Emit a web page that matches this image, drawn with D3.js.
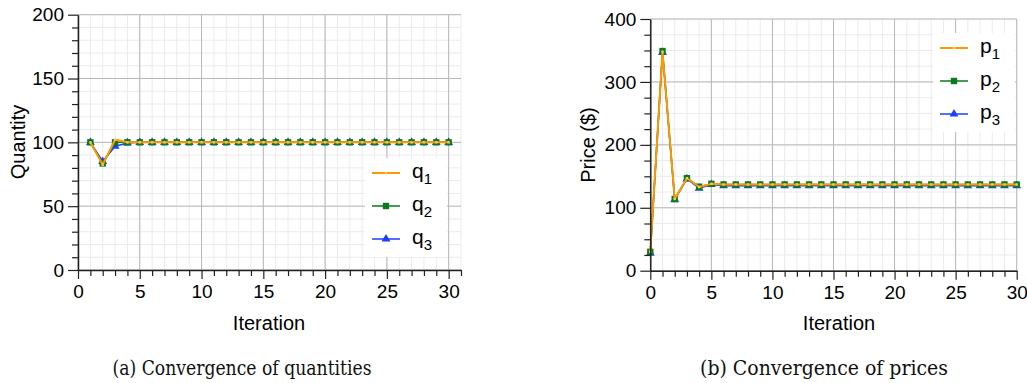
<!DOCTYPE html>
<html>
<head>
<meta charset="utf-8">
<script src="https://cdn.jsdelivr.net/npm/d3@7"></script>
<style>
  body { margin: 0; background: #fff; }
  text { font-family: "Liberation Sans", Arial, sans-serif; }
  text.caption { font-family: "DejaVu Serif Condensed", "DejaVu Serif", serif; font-stretch: condensed; }
</style>
</head>
<body>
<svg id="chart" width="1027" height="383"></svg>
<script>
// quantities, iteration 1..30
var iterQ = [1,2,3,4,5,6,7,8,9,10,11,12,13,14,15,16,17,18,19,20,21,22,23,24,25,26,27,28,29,30]
var q1 = [100,82.5,102,100,100,100,100,100,100,100,100,100,100,100,100,100,100,100,100,100,100,100,100,100,100,100,100,100,100,100]
var q2 = [100,83.5,100,100,100,100,100,100,100,100,100,100,100,100,100,100,100,100,100,100,100,100,100,100,100,100,100,100,100,100]
var q3 = [100,85,97,99.5,100,100,100,100,100,100,100,100,100,100,100,100,100,100,100,100,100,100,100,100,100,100,100,100,100,100]

// prices, iteration 0..30
var iterP = [0,1,2,3,4,5,6,7,8,9,10,11,12,13,14,15,16,17,18,19,20,21,22,23,24,25,26,27,28,29,30]
var p1 = [30,348,114,147,133,138,137,137,137,137,137,137,137,137,137,137,137,137,137,137,137,137,137,137,137,137,137,137,137,137,137]
var p2 = [30,349,114,147,133.5,138,137,137,137,137,137,137,137,137,137,137,137,137,137,137,137,137,137,137,137,137,137,137,137,137,137]
var p3 = [28,347,113,146,131,137,135,135,135,135,135,135,135,135,135,135,135,135,135,135,135,135,135,135,135,135,135,135,135,135,135]

var xTicks = [0,5,10,15,20,25,30]
var qTicks = [0,50,100,150,200]
var pTicks = [0,100,200,300,400]

var colors = {orange: "#ff9900", green: "#0a7a1f", blue: "#1a40ff"}

var svg = d3.select("#chart")

function panel(opt) {
  var x = d3.scaleLinear().domain(opt.xDomain).range(opt.xRange)
  var y = d3.scaleLinear().domain(opt.yDomain).range(opt.yRange)
  var g = svg.append("g")
  var x0 = opt.xRange[0], x1 = opt.xRange[1]
  var y0 = opt.yRange[0], y1 = opt.yRange[1]

  // minor grid
  var xMinor = d3.range(opt.xDomain[0], opt.xDomain[1] + 0.01, 1)
  var yMinor = d3.range(opt.yDomain[0], opt.yDomain[1] + 0.01, opt.yMinorStep)
  g.selectAll(".xm").data(xMinor).join("line")
    .attr("x1", d => x(d)).attr("x2", d => x(d)).attr("y1", y0).attr("y2", y1)
    .attr("stroke", "#ebebeb").attr("stroke-width", 1)
  g.selectAll(".ym").data(yMinor).join("line")
    .attr("x1", x0).attr("x2", x1).attr("y1", d => y(d)).attr("y2", d => y(d))
    .attr("stroke", "#ebebeb").attr("stroke-width", 1)
  // major grid
  g.selectAll(".xM").data(xTicks).join("line")
    .attr("x1", d => x(d)).attr("x2", d => x(d)).attr("y1", y0).attr("y2", y1)
    .attr("stroke", "#b8b8b8").attr("stroke-width", 1)
  g.selectAll(".yM").data(opt.yTicks).join("line")
    .attr("x1", x0).attr("x2", x1).attr("y1", d => y(d)).attr("y2", d => y(d))
    .attr("stroke", "#b8b8b8").attr("stroke-width", 1)

  // series
  var series = opt.series
  series.forEach(function(s) {
    var pts = opt.xs.map((v, i) => [v, s.values[i]])
    var line = d3.line().x(d => x(d[0])).y(d => y(d[1]))
    g.append("path").datum(pts)
      .attr("fill", "none").attr("stroke", s.color)
      .attr("stroke-width", s.width).attr("stroke-linejoin", "round")
      .attr("d", line)
    drawMarkers(g, pts.map(d => [x(d[0]), y(d[1])]), s)
  })

  // legend
  var lg = g.append("g").attr("transform", `translate(${opt.legend[0]},${opt.legend[1]})`)
  lg.append("rect").attr("width", 82).attr("height", 99).attr("fill", "#fff")
  series.slice().reverse().forEach(function(s, i) {
    var ly = 15 + i * 33
    lg.append("line").attr("x1", 7).attr("x2", 35).attr("y1", ly).attr("y2", ly)
      .attr("stroke", s.color).attr("stroke-width", s.width)
    drawMarkers(lg, [[21, ly]], s)
    var t = lg.append("text").attr("x", 47).attr("y", ly + 5).attr("font-size", 21)
    t.append("tspan").text(opt.sym)
    t.append("tspan").attr("dy", 6).attr("font-size", 15).text(s.idx)
  })

  // axes
  var xAxis = d3.axisBottom(x).tickValues(xMinor).tickSize(6).tickSizeOuter(0)
    .tickFormat(d => xTicks.includes(d) ? d : "")
  var ax = g.append("g").attr("transform", `translate(0,${y0})`).call(xAxis)
  ax.selectAll("text").attr("font-size", 19).attr("fill", "#000").attr("dy", "1.0em")
  ax.selectAll(".tick").filter(d => xTicks.includes(d)).select("line").attr("y2", 9)
  var yAxis = d3.axisLeft(y).tickValues(yMinor).tickSize(6).tickSizeOuter(0)
    .tickFormat(d => opt.yTicks.includes(d) ? d : "")
  var ay = g.append("g").attr("transform", `translate(${x0},0)`).call(yAxis)
  ay.selectAll("text").attr("font-size", 19).attr("fill", "#000").attr("x", -14)
  ay.selectAll(".tick").filter(d => opt.yTicks.includes(d)).select("line").attr("x2", -10)
  g.selectAll(".domain").attr("stroke", "#222").attr("stroke-width", 1.5)
  g.selectAll(".tick line").attr("stroke", "#222").attr("stroke-width", 1.2)

  // titles
  g.append("text").attr("x", opt.xLabelX).attr("y", 330).attr("text-anchor", "middle")
    .attr("font-size", 20).text("Iteration")
  g.append("text").attr("transform", `translate(${opt.yLabelX},${opt.yLabelY}) rotate(-90)`)
    .attr("text-anchor", "middle").attr("font-size", 20).text(opt.yLabel)
  g.append("text").attr("class", "caption").attr("x", opt.capX).attr("y", 375)
    .attr("text-anchor", "middle").attr("font-size", 21).attr("fill", "#111")
    .attr("textLength", opt.capW).attr("lengthAdjust", "spacingAndGlyphs")
    .text(opt.caption)
}

function drawMarkers(g, pts, s) {
  if (s.marker === "tri") {
    g.selectAll(null).data(pts).join("path")
      .attr("transform", d => `translate(${d[0]},${d[1]})`)
      .attr("d", d3.symbol(d3.symbolTriangle, 34)).attr("fill", s.color)
  } else if (s.marker === "sq") {
    g.selectAll(null).data(pts).join("rect")
      .attr("x", d => d[0] - 3.2).attr("y", d => d[1] - 3.2)
      .attr("width", 6.4).attr("height", 6.4).attr("fill", s.color)
  } else {
    g.selectAll(null).data(pts).join("rect")
      .attr("x", d => d[0] - 1.2).attr("y", d => d[1] - 1.2)
      .attr("width", 2.4).attr("height", 2.4).attr("fill", "#ffc45a")
  }
}

panel({
  xDomain: [0, 31], xRange: [78, 461],
  yDomain: [0, 200], yRange: [270, 14.7], yMinorStep: 10, yTicks: qTicks,
  xs: iterQ, sym: "q",
  series: [
    {idx: 3, values: q3, color: colors.blue, marker: "tri", width: 1.5},
    {idx: 2, values: q2, color: colors.green, marker: "sq", width: 1.5},
    {idx: 1, values: q1, color: colors.orange, marker: "dot", width: 2}
  ],
  legend: [365, 158],
  xLabelX: 269, yLabelX: 25, yLabelY: 142, yLabel: "Quantity",
  capX: 242, capW: 259, caption: "(a) Convergence of quantities"
})

panel({
  xDomain: [0, 30], xRange: [650.3, 1016.7],
  yDomain: [0, 400], yRange: [270.7, 19], yMinorStep: 25, yTicks: pTicks,
  xs: iterP, sym: "p",
  series: [
    {idx: 3, values: p3, color: colors.blue, marker: "tri", width: 1.5},
    {idx: 2, values: p2, color: colors.green, marker: "sq", width: 1.5},
    {idx: 1, values: p1, color: colors.orange, marker: "dot", width: 2}
  ],
  legend: [933, 33],
  xLabelX: 839, yLabelX: 595, yLabelY: 145, yLabel: "Price ($)",
  capX: 824, capW: 248, caption: "(b) Convergence of prices"
})
</script>
</body>
</html>
